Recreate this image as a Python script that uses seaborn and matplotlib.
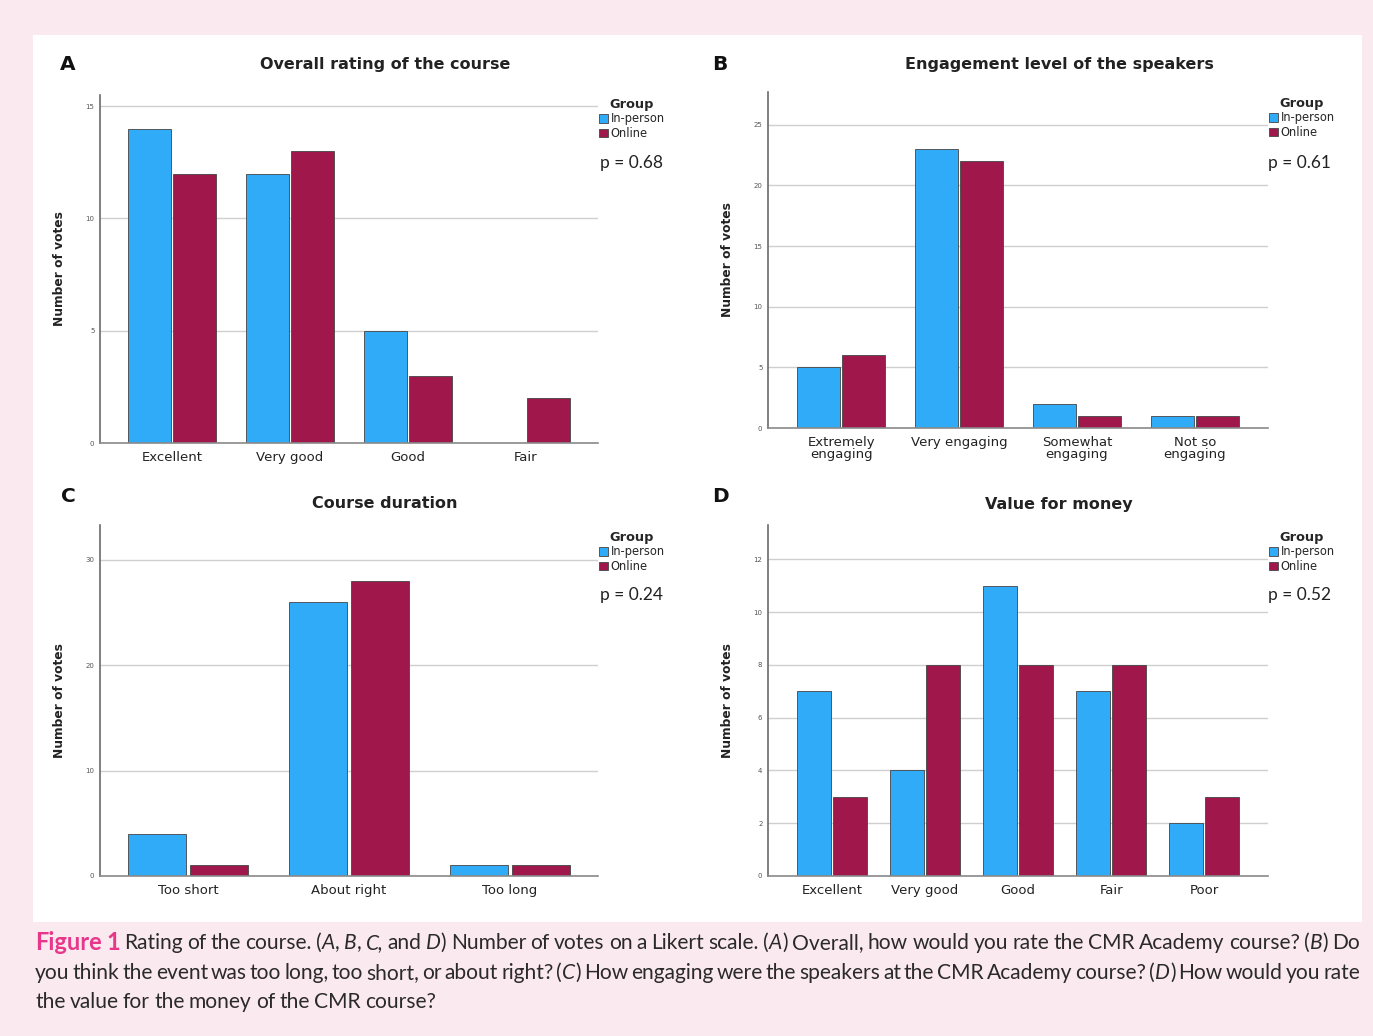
import matplotlib
matplotlib.use("Agg")
import matplotlib.pyplot as plt
from matplotlib.patches import Rectangle
import seaborn as sns
import pandas as pd

# ---------------- data ----------------
a_cats = ["Excellent", "Very good", "Good", "Fair"]
a_inperson = [14, 12, 5, 0]
a_online = [12, 13, 3, 2]

b_cats = ["Extremely\nengaging", "Very engaging", "Somewhat\nengaging", "Not so\nengaging"]
b_inperson = [5, 23, 2, 1]
b_online = [6, 22, 1, 1]

c_cats = ["Too short", "About right", "Too long"]
c_inperson = [4, 26, 1]
c_online = [1, 28, 1]

d_cats = ["Excellent", "Very good", "Good", "Fair", "Poor"]
d_inperson = [7, 4, 11, 7, 2]
d_online = [3, 8, 8, 8, 3]

groups = ["In-person", "Online"]
titles = ["Overall rating of the course", "Engagement level of the speakers",
          "Course duration", "Value for money"]
letters = ["A", "B", "C", "D"]
pvalues = ["p = 0.68", "p = 0.61", "p = 0.24", "p = 0.52"]
a_yticks = [0, 5, 10, 15]
b_yticks = [0, 5, 10, 15, 20, 25]
c_yticks = [0, 10, 20, 30]
d_yticks = [0, 2, 4, 6, 8, 10, 12]

caption_lines = [
    "*Figure *1 Rating of the course. (_A_, _B_, _C,_ and _D_) Number of votes on a Likert scale. (_A_) Overall, how would you rate the CMR Academy course? (_B_) Do",
    "you think the event was too long, too short, or about right? (_C_) How engaging were the speakers at the CMR Academy course? (_D_) How would you rate",
    "the value for the money of the CMR course?",
]

BLUE = "#30abf7"
MAROON = "#a0174b"
PINK_BG = "#fbe9f0"
FIG_PINK = "#e8378b"

W, H = 1373, 1036
sns.set_theme(style="white")
plt.rcParams["font.family"] = ["DejaVu Sans"]

fig = plt.figure(figsize=(W / 100, H / 100), dpi=100, facecolor=PINK_BG)
fig.patches.append(Rectangle((33 / W, 1 - 922 / H), (1362 - 33) / W, (922 - 35) / H,
                             transform=fig.transFigure, facecolor="white",
                             edgecolor="none", zorder=-5))


def fx(x):
    return x / W


def fy(y):
    return 1 - y / H


def px_axes(l, t, r, b):
    return fig.add_axes([l / W, 1 - b / H, (r - l) / W, (b - t) / H])


panels = [
    dict(cats=a_cats, inp=a_inperson, onl=a_online, yt=a_yticks, box=(100, 95, 598, 443),
         ylim=15.5, xpad=0.61, title_xy=(385, 64), letter_xy=(68, 64), leg_xy=(599, 98), p_xy=(600, 163)),
    dict(cats=b_cats, inp=b_inperson, onl=b_online, yt=b_yticks, box=(768, 92, 1268, 428),
         ylim=27.7, xpad=0.62, title_xy=(1059, 64), letter_xy=(720, 64), leg_xy=(1269, 97), p_xy=(1268, 163)),
    dict(cats=c_cats, inp=c_inperson, onl=c_online, yt=c_yticks, box=(100, 525, 598, 876),
         ylim=33.3, xpad=0.55, title_xy=(385, 504), letter_xy=(68, 497), leg_xy=(599, 531), p_xy=(600, 595)),
    dict(cats=d_cats, inp=d_inperson, onl=d_online, yt=d_yticks, box=(768, 525, 1268, 876),
         ylim=13.3, xpad=0.685, title_xy=(1059, 504), letter_xy=(720, 497), leg_xy=(1269, 531), p_xy=(1268, 595)),
]

for i, p in enumerate(panels):
    ax = px_axes(*p["box"])
    n = len(p["cats"])
    df = pd.DataFrame({
        "Category": p["cats"] * 2,
        "Votes": p["inp"] + p["onl"],
        "Group": [groups[0]] * n + [groups[1]] * n,
    })
    sns.barplot(data=df, x="Category", y="Votes", hue="Group", hue_order=groups,
                palette=[BLUE, MAROON], width=0.77, gap=0.06, edgecolor="#444444",
                linewidth=0.6, ax=ax, legend=True, saturation=1)
    handles, labels = ax.get_legend_handles_labels()
    if ax.get_legend() is not None:
        ax.get_legend().remove()
    ax.set_axisbelow(True)
    ax.set_xlim(-p["xpad"], n - 1 + p["xpad"])
    ax.set_ylim(0, p["ylim"])
    ax.set_yticks(p["yt"])
    ax.yaxis.grid(True, color="#cfcfcf", linewidth=1.0)
    ax.xaxis.grid(False)
    for s in ["top", "right"]:
        ax.spines[s].set_visible(False)
    ax.spines["left"].set_color("#6a6a6a")
    ax.spines["bottom"].set_color("#8a8a8a")
    ax.spines["left"].set_linewidth(1.2)
    ax.spines["bottom"].set_linewidth(1.2)
    ax.tick_params(axis="y", length=0, pad=4, labelsize=5, labelcolor="#555555")
    ax.tick_params(axis="x", length=0, pad=6, labelsize=9.5, labelcolor="#222222")
    for lab in ax.get_xticklabels():
        lab.set_linespacing(0.85)
    ax.set_xlabel("")
    ax.set_ylabel("Number of votes", fontsize=8.8, fontweight="bold", color="#222222")
    ax.yaxis.set_label_coords(-0.068, 0.5)

    fig.text(fx(p["title_xy"][0]), fy(p["title_xy"][1]), titles[i], ha="center", va="center",
             fontsize=11.5, fontweight="bold", color="#222222")
    fig.text(fx(p["letter_xy"][0]), fy(p["letter_xy"][1]), letters[i], ha="center", va="center",
             fontsize=14.5, fontweight="bold", color="#111111")
    fig.legend(handles, labels, title="Group", loc="upper left",
               bbox_to_anchor=(fx(p["leg_xy"][0]), fy(p["leg_xy"][1])),
               frameon=False, fontsize=8.3, title_fontproperties={"weight": "bold", "size": 9.3},
               handlelength=0.75, handleheight=0.75, handletextpad=0.25, labelspacing=0.12,
               borderpad=0, borderaxespad=0)
    fig.text(fx(p["p_xy"][0]), fy(p["p_xy"][1]), pvalues[i], ha="left", va="center",
             fontsize=12.5, family="Lato", color="#222222")

# ---------------- caption ----------------
renderer = fig.canvas.get_renderer()
styles = {
    "n": dict(family="Lato", style="normal", color="#2a2a2a"),
    "i": dict(family="Lato", style="italic", color="#2a2a2a"),
    "b": dict(family="Lato", weight="bold", color=FIG_PINK),
}
BOLD_SCALE = 1.12


def parse_word(word):
    if word.startswith("*"):
        return [(word[1:], "b")]
    parts = word.split("_")
    return [(s, "i" if k % 2 else "n") for k, s in enumerate(parts) if s]


def measure(s, st, size):
    sz = size * (BOLD_SCALE if st == "b" else 1.0)
    t = fig.text(0, 0, s, fontsize=sz, **styles[st])
    w = t.get_window_extent(renderer).width
    t.remove()
    return w


base = 12.0
x0, x1 = 35, 1360
words0 = [parse_word(w) for w in caption_lines[0].split(" ") if w]
space0 = measure("a a", "n", base) - measure("aa", "n", base)
nat = sum(measure(s, st, base) for w in words0 for s, st in w) + space0 * 0.8 * (len(words0) - 1)
size = min(base * (x1 - x0) / nat, 17.0)
space = measure("a a", "n", size) - measure("aa", "n", size)

ys = [943, 973, 1002]
for li, line in enumerate(caption_lines):
    raw = [w for w in line.split(" ") if w]
    words = [parse_word(w) for w in raw]
    widths = [[measure(s, st, size) for s, st in w] for w in words]
    total = sum(sum(w) for w in widths)
    if li < len(caption_lines) - 1 and len(words) > 1:
        gap = (x1 - x0 - total) / (len(words) - 1)
    else:
        gap = space * 0.8
    x = x0
    for w, ws in zip(words, widths):
        for (s, st), wd in zip(w, ws):
            sz = size * (BOLD_SCALE if st == "b" else 1.0)
            fig.text(fx(x), fy(ys[li]), s, fontsize=sz, ha="left", va="center", **styles[st])
            x += wd
        x += gap

fig.savefig("out.png", dpi=100, facecolor=PINK_BG)
